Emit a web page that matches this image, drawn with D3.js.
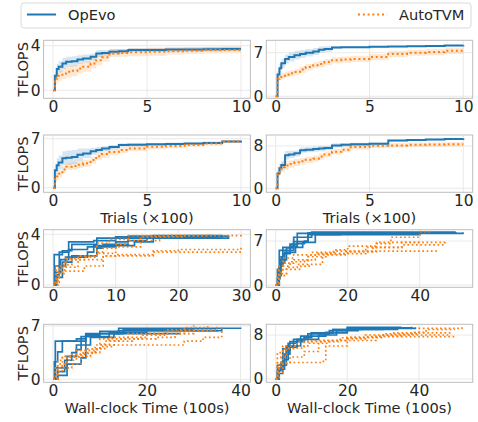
<!DOCTYPE html>
<html><head><meta charset="utf-8">
<script src="https://cdn.jsdelivr.net/npm/d3@7"></script>
<style>
body{margin:0;background:#fff}
text{font-family:"DejaVu Sans",sans-serif;fill:#262626}
</style>
</head><body>
<svg id="c" width="478" height="422"></svg>
<script>
// ---------------- DATA ----------------
const seriesNames = ["OpEvo", "AutoTVM"];
const yLabel = "TFLOPS";
const xLabelTrials = "Trials (\u00d7100)";
const xLabelTime = "Wall-clock Time (100s)";

// Trials grid (x100) for mean curves
const trialsX = [0, 0.1, 0.2, 0.3, 0.5, 0.7, 1.0, 1.3, 1.6, 2.0, 2.3, 2.6, 3.0, 3.5, 4.0, 5.0, 6.0, 7.0, 8.0, 9.0, 10.0];

// Panel A (row 1, left)
const aOpEvoMean   = [0, 1.3, 1.9, 2.1, 2.4, 2.55, 2.6, 2.75, 2.85, 3.0, 3.3, 3.35, 3.45, 3.5, 3.6, 3.62, 3.65, 3.66, 3.68, 3.7, 3.7];
const aOpEvoStd    = [0, 0.3, 0.45, 0.5, 0.5, 0.45, 0.45, 0.4, 0.35, 0.3, 0.3, 0.25, 0.25, 0.2, 0.2, 0.2, 0.2, 0.2, 0.2, 0.2, 0.2];
const aAutoTVMMean = [0, 0.8, 1.1, 1.3, 1.5, 1.65, 1.75, 1.95, 2.1, 2.4, 2.7, 2.95, 3.3, 3.35, 3.4, 3.45, 3.5, 3.55, 3.6, 3.62, 3.65];
const aAutoTVMStd  = [0, 0.3, 0.4, 0.45, 0.5, 0.5, 0.5, 0.45, 0.45, 0.45, 0.45, 0.4, 0.35, 0.35, 0.35, 0.35, 0.3, 0.3, 0.3, 0.3, 0.3];

// Panel B (row 1, right)
const bOpEvoMean   = [0, 3.5, 4.5, 5.3, 6.0, 6.3, 6.6, 6.8, 7.0, 7.2, 7.5, 7.6, 7.85, 7.9, 7.9, 7.95, 8.0, 8.05, 8.1, 8.15, 8.2];
const bOpEvoStd    = [0, 0.6, 0.7, 0.7, 0.7, 0.7, 0.7, 0.65, 0.6, 0.55, 0.5, 0.45, 0.2, 0.15, 0.15, 0.1, 0.1, 0.1, 0.1, 0.1, 0.1];
const bAutoTVMMean = [0, 2.8, 3.1, 3.3, 3.5, 3.7, 3.9, 4.3, 4.7, 5.0, 5.2, 5.5, 5.8, 5.9, 6.0, 6.3, 6.8, 7.0, 7.1, 7.3, 7.4];
const bAutoTVMStd  = [0, 0.5, 0.5, 0.5, 0.5, 0.5, 0.5, 0.5, 0.5, 0.5, 0.5, 0.5, 0.5, 0.5, 0.5, 0.5, 0.5, 0.5, 0.5, 0.5, 0.5];

// Panel C (row 2, left)
const cOpEvoMean   = [0, 2.5, 3.2, 3.6, 4.2, 4.3, 4.4, 4.7, 4.9, 5.2, 5.4, 5.6, 5.8, 6.1, 6.15, 6.2, 6.25, 6.3, 6.4, 6.6, 6.7];
const cOpEvoStd    = [0, 0.8, 1.0, 1.0, 1.0, 1.0, 1.0, 0.9, 0.7, 0.5, 0.4, 0.35, 0.3, 0.25, 0.25, 0.2, 0.2, 0.15, 0.15, 0.1, 0.1];
const cAutoTVMMean = [0, 1.2, 1.6, 2.0, 2.6, 3.0, 3.1, 3.3, 3.5, 3.95, 4.5, 4.8, 5.1, 5.4, 5.6, 5.85, 5.95, 6.1, 6.3, 6.6, 6.7];
const cAutoTVMStd  = [0, 0.4, 0.5, 0.5, 0.5, 0.5, 0.5, 0.5, 0.5, 0.5, 0.5, 0.5, 0.45, 0.4, 0.4, 0.35, 0.3, 0.3, 0.3, 0.2, 0.2];

// Panel D (row 2, right)
const dOpEvoMean   = [0, 2.8, 3.8, 4.4, 6.25, 6.4, 6.6, 7.2, 7.3, 7.4, 7.5, 7.6, 8.1, 8.2, 8.3, 8.4, 9.0, 9.1, 9.2, 9.3, 9.4];
const dOpEvoStd    = [0, 0.6, 0.8, 0.8, 0.8, 0.7, 0.6, 0.5, 0.5, 0.5, 0.5, 0.45, 0.4, 0.35, 0.3, 0.25, 0.2, 0.2, 0.2, 0.2, 0.2];
const dAutoTVMMean = [0, 3.1, 3.6, 4.0, 4.3, 4.6, 4.9, 5.1, 5.4, 5.6, 6.0, 6.4, 6.9, 7.3, 7.8, 8.05, 8.1, 8.2, 8.25, 8.3, 8.3];
const dAutoTVMStd  = [0, 1.0, 1.0, 0.9, 0.8, 0.7, 0.7, 0.6, 0.6, 0.6, 0.6, 0.55, 0.5, 0.5, 0.5, 0.45, 0.4, 0.4, 0.4, 0.4, 0.4];

// Individual runs vs wall-clock time (100s): [time, TFLOPS]
const eOpEvoRuns = [
  [[0,0],[0.2,2.4],[1.5,2.7],[3,3.2],[7,3.7],[12,3.85],[28,3.9]],
  [[0,0],[0.3,1.5],[1,2.6],[2.5,3.4],[6.5,3.5],[10,3.8],[16,3.9],[27,3.9]],
  [[0,0],[0.5,0.8],[1,1.5],[2,2.2],[5.5,2.6],[6.5,3.1],[13,3.4],[16,3.7],[26,3.8]],
  [[0,0],[0.6,0.6],[1.5,1.8],[3,2.3],[7,2.9],[8,3.2],[12,3.5],[15,3.8],[27,3.85]],
  [[0,0],[0.3,1.0],[1.2,2.0],[2.5,2.8],[5.5,3.0],[10,3.4],[12,3.7],[28,3.9]]
];
const eAutoTVMRuns = [
  [[0,0],[0.5,1.5],[2,2.0],[8,2.3],[16,2.6],[30,2.6]],
  [[0,0],[0.8,0.9],[2,1.1],[5,1.5],[8,2.3],[10,2.4],[16,2.7],[20,2.8],[30,3.0]],
  [[0,0],[0.5,1.0],[1.5,1.6],[3,2.0],[5,2.2],[7,3.3],[9,3.6],[12,3.9],[25,4.0]],
  [[0,0],[0.4,0.4],[1,1.2],[2,2.1],[4,2.3],[7,2.5],[10,3.0],[14,3.8],[21,3.95]],
  [[0,0],[0.3,0.2],[1,1.4],[4,2.3],[7,2.6],[8,2.9],[10,3.2],[12,3.5],[17,3.9],[30,3.95]]
];
const fOpEvoRuns = [
  [[0,0],[0.5,2.5],[1,5.5],[3,5.9],[5,6.9],[9,8.0],[18,8.3],[46,8.4]],
  [[0,0],[0.8,2],[1.5,4.5],[2,6.0],[4,6.5],[6,8.2],[52,8.4]],
  [[0,0],[0.6,1.5],[1.5,3.5],[2.5,5.2],[5.5,6.0],[7.5,6.8],[11,8.0],[40,8.3]],
  [[0,0],[1,3],[2,5.0],[4,6.2],[6,6.6],[8,7.0],[9,8.3],[45,8.4]],
  [[0,0],[0.5,1],[1.2,4],[3,5.5],[5,7.6],[10,8.4],[50,8.45]]
];
const fAutoTVMRuns = [
  [[0,0],[1,2],[2,3.5],[5,4.0],[9,4.8],[12,5.0],[25,5.3],[28,6.6],[32,7.6],[40,8.5],[43,8.5]],
  [[0,0],[1,1.8],[3,2.5],[7,3.0],[10,3.3],[13,4.8],[20,5.3],[27,5.4],[45,5.45]],
  [[0,0],[0.8,2.5],[2,4.3],[5,4.8],[10,5.2],[17,5.4],[27,6.0],[35,6.4],[47,6.6]],
  [[0,0],[1,3.0],[4,3.7],[8,4.0],[11,5.0],[16,5.6],[20,6.2],[28,6.8],[47,7.0]],
  [[0,0],[0.5,1.5],[3,2.8],[6,3.3],[9,4.5],[14,5.0],[19,5.3],[25,6.0],[35,6.8],[40,7.0]]
];
const gOpEvoRuns = [
  [[0,0],[0.5,5.0],[2,5.0],[7,5.9],[10,6.3],[14,6.7],[40,6.8]],
  [[0,0],[0.3,2.3],[1,3.6],[2,5.0],[5,5.3],[7,6.0],[14,6.4],[35,6.5]],
  [[0,0],[1,1.0],[2.5,2.5],[3,3.0],[5,3.9],[6,5.6],[12,6.2],[20,6.4],[36,6.6]],
  [[0,0],[0.5,1.5],[3,2.0],[6,2.8],[7,5.8],[10,6.0],[15,6.5],[30,6.7]],
  [[0,0],[1,0.5],[3,2.5],[4,3.5],[5,4.5],[8,5.5],[13,6.0],[27,6.1]]
];
const gAutoTVMRuns = [
  [[0,0],[1,1.0],[2,1.8],[3,2.9],[6,3.4],[9,3.9],[10,4.5],[13,5.0],[17,5.3],[22,5.5],[26,6.0],[30,6.5],[35,7.0]],
  [[0,0],[1,2.0],[3,2.5],[5,3.0],[8,3.5],[10,4.3],[13,4.5],[25,4.5],[28,5.0],[32,5.5],[36,6.8]],
  [[0,0],[0.5,1.5],[2,3.0],[5,3.8],[9,4.5],[12,5.5],[20,6.0],[28,6.8],[33,7.0]],
  [[0,0],[1,2.5],[2,3.0],[4,3.3],[7,4.0],[10,5.3],[16,6.0],[24,6.5],[30,7.1]],
  [[0,0],[1,1.5],[4,2.0],[6,3.5],[9,4.0],[11,5.0],[14,5.3],[19,5.8],[24,6.3],[27,6.4],[34,6.5]]
];
const hOpEvoRuns = [
  [[0,0],[0.5,1.5],[1.5,3],[2,5.5],[3,6.0],[5,7.2],[9,8.2],[15,8.8],[20,9.2],[39,9.4]],
  [[0,0],[0.5,2.5],[2,4.5],[3,5.8],[6,7.0],[8,7.6],[10,8.4],[16,9.0],[24,9.2],[33,9.3]],
  [[0,0],[1,2.0],[2,3.5],[3.5,6.5],[6,7.2],[12,8.0],[17,8.8],[23,9.0],[34,9.1]],
  [[0,0],[0.8,1.0],[2,2.5],[3,5.2],[4,6.8],[8,7.5],[10,8.4],[20,9.4],[35,9.5]],
  [[0,0],[1,1.8],[2.5,4.5],[4,6.0],[7,7.8],[14,8.5],[16,9.0],[30,9.3],[38,9.5]]
];
const hAutoTVMRuns = [
  [[0,0],[0.5,3],[2,5.5],[5,6.0],[9,6.5],[15,7.0],[20,7.5],[30,8.2],[40,9.2],[52,9.5]],
  [[0,0],[0.5,1.2],[2,3.0],[13,3.2],[14,6.0],[20,7.0],[28,7.8],[35,8.0],[49,8.0]],
  [[0,0],[0.5,2],[1.5,4],[3,5.6],[8,6.8],[13,7.0],[20,7.3],[25,7.7],[50,7.8]],
  [[0,0],[1,2.8],[4,4.0],[8,5.0],[12,6.8],[18,7.5],[25,8.0],[33,8.4],[49,8.5]],
  [[0,0],[0.5,4.8],[2,6.0],[6,6.8],[10,7.0],[20,7.6],[30,8.0],[38,8.5],[42,9.0],[50,9.0]]
];

// Tick values
const xTicksTrials = [0, 5, 10];
const xTicksE = [0, 10, 20, 30];
const xTicksWide = [0, 20, 40];
const yTicksA = [0, 4], yTicksB = [0, 7], yTicksC = [0, 7], yTicksD = [0, 8];
const yTicksE = [0, 4], yTicksF = [0, 7], yTicksG = [0, 7], yTicksH = [0, 8];

// ---------------- LAYOUT ----------------
const BLUE = "#1f77b4", ORANGE = "#ff7f0e";
const TICK_FS = 15.5, LABEL_FS = 14.6;
const colL = {x: 43.6, w: 206.8}, colR = {x: 266.3, w: 206.4};
const rows = [{y: 40.3, h: 58}, {y: 135, h: 57.3}, {y: 229.7, h: 57.6}, {y: 324.3, h: 58}];

const zipMean = (m, s) => trialsX.map((x, i) => ({x, m: m[i], s: s[i]}));

const panels = [
  {col: colL, row: rows[0], xd: [-0.5, 10.5], yd: [-0.72, 4.48], xt: xTicksTrials, yt: yTicksA, mean: [zipMean(aOpEvoMean, aOpEvoStd), zipMean(aAutoTVMMean, aAutoTVMStd)], ylab: true},
  {col: colR, row: rows[0], xd: [-0.5, 10.5], yd: [-0.33, 9.0], xt: xTicksTrials, yt: yTicksB, mean: [zipMean(bOpEvoMean, bOpEvoStd), zipMean(bAutoTVMMean, bAutoTVMStd)]},
  {col: colL, row: rows[1], xd: [-0.5, 10.5], yd: [-0.65, 7.53], xt: xTicksTrials, yt: yTicksC, mean: [zipMean(cOpEvoMean, cOpEvoStd), zipMean(cAutoTVMMean, cAutoTVMStd)], ylab: true, xlab: xLabelTrials},
  {col: colR, row: rows[1], xd: [-0.5, 10.5], yd: [-0.75, 10.06], xt: xTicksTrials, yt: yTicksD, mean: [zipMean(dOpEvoMean, dOpEvoStd), zipMean(dAutoTVMMean, dAutoTVMStd)], xlab: xLabelTrials},
  {col: colL, row: rows[2], xd: [-1.5, 31.5], yd: [-0.18, 4.36], xt: xTicksE, yt: yTicksE, runs: [eOpEvoRuns, eAutoTVMRuns], ylab: true},
  {col: colR, row: rows[2], xd: [-2.6, 54.7], yd: [-0.36, 8.8], xt: xTicksWide, yt: yTicksF, runs: [fOpEvoRuns, fAutoTVMRuns]},
  {col: colL, row: rows[3], xd: [-2.0, 42.1], yd: [-0.4, 7.22], xt: xTicksWide, yt: yTicksG, runs: [gOpEvoRuns, gAutoTVMRuns], ylab: true, xlab: xLabelTime},
  {col: colR, row: rows[3], xd: [-2.6, 55.0], yd: [-0.6, 9.95], xt: xTicksWide, yt: yTicksH, runs: [hOpEvoRuns, hAutoTVMRuns], xlab: xLabelTime}
];

const svg = d3.select("#c");
const defs = svg.append("defs");

panels.forEach((p, i) => {
  const x0 = p.col.x, w = p.col.w, y0 = p.row.y, h = p.row.h;
  const xs = d3.scaleLinear().domain(p.xd).range([x0, x0 + w]);
  const ys = d3.scaleLinear().domain(p.yd).range([y0 + h, y0]);
  const g = svg.append("g");
  defs.append("clipPath").attr("id", "clip" + i).append("rect")
    .attr("x", x0).attr("y", y0).attr("width", w).attr("height", h);

  // grid
  g.append("g").selectAll("line").data(p.xt).join("line")
    .attr("x1", d => xs(d)).attr("x2", d => xs(d)).attr("y1", y0).attr("y2", y0 + h)
    .attr("stroke", "#e6e6e6").attr("stroke-width", 0.9);
  g.append("g").selectAll("line").data(p.yt).join("line")
    .attr("y1", d => ys(d)).attr("y2", d => ys(d)).attr("x1", x0).attr("x2", x0 + w)
    .attr("stroke", "#e6e6e6").attr("stroke-width", 0.9);

  const plot = g.append("g").attr("clip-path", `url(#clip${i})`);
  const colors = [BLUE, ORANGE];

  if (p.mean) {
    p.mean.forEach((ser, k) => {
      const area = d3.area().curve(d3.curveStepAfter)
        .x(d => xs(d.x)).y0(d => ys(d.m - d.s)).y1(d => ys(d.m + d.s));
      plot.append("path").attr("d", area(ser)).attr("fill", colors[k]).attr("fill-opacity", 0.18);
    });
    p.mean.forEach((ser, k) => {
      const line = d3.line().curve(d3.curveStepAfter).x(d => xs(d.x)).y(d => ys(d.m));
      const path = plot.append("path").attr("d", line(ser)).attr("fill", "none")
        .attr("stroke", colors[k]).attr("stroke-width", 2);
      if (k === 1) path.attr("stroke-dasharray", "2,2.8");
    });
  }
  if (p.runs) {
    const line = d3.line().curve(d3.curveStepAfter).x(d => xs(d[0])).y(d => ys(d[1]));
    p.runs.forEach((runs, k) => {
      runs.forEach(r => {
        const path = plot.append("path").attr("d", line(r)).attr("fill", "none")
          .attr("stroke", colors[k]).attr("stroke-width", 1.7);
        if (k === 1) path.attr("stroke-dasharray", "1.7,2.6");
      });
    });
  }

  // frame
  g.append("rect").attr("x", x0).attr("y", y0).attr("width", w).attr("height", h)
    .attr("fill", "none").attr("stroke", "#bdbdbd").attr("stroke-width", 1);

  // axes (tick labels only)
  const xa = d3.axisBottom(xs).tickValues(p.xt).tickSize(0).tickPadding(2.5).tickFormat(d3.format("d"));
  const ya = d3.axisLeft(ys).tickValues(p.yt).tickSize(0).tickPadding(3).tickFormat(d3.format("d"));
  const gx = g.append("g").attr("transform", `translate(0,${y0 + h})`).call(xa);
  const gy = g.append("g").attr("transform", `translate(${x0},0)`).call(ya);
  [gx, gy].forEach(a => {
    a.select(".domain").remove();
    a.selectAll("text").attr("font-size", TICK_FS).attr("font-family", "DejaVu Sans").attr("fill", "#262626");
  });
  gx.selectAll("text").attr("dy", "0.72em");

  if (p.ylab) {
    g.append("text").attr("transform", `translate(28,${y0 + h / 2}) rotate(-90)`)
      .attr("text-anchor", "middle").attr("font-size", LABEL_FS).text(yLabel);
  }
  if (p.xlab) {
    g.append("text").attr("x", x0 + w / 2).attr("y", y0 + h + 31)
      .attr("text-anchor", "middle").attr("font-size", LABEL_FS).text(p.xlab);
  }
});

// legend
const lg = svg.append("g");
lg.append("rect").attr("x", 21).attr("y", 3).attr("width", 450).attr("height", 25).attr("rx", 3)
  .attr("fill", "#fff").attr("stroke", "#d6d6d6").attr("stroke-width", 0.9);
const legendItems = [{x: 27, tx: 68, c: BLUE, dash: null}, {x: 358, tx: 399, c: ORANGE, dash: "2,2.8"}];
legendItems.forEach((it, k) => {
  const l = lg.append("line").attr("x1", it.x).attr("x2", it.x + 29).attr("y1", 14.5).attr("y2", 14.5)
    .attr("stroke", it.c).attr("stroke-width", 2);
  if (it.dash) l.attr("stroke-dasharray", it.dash);
  lg.append("text").attr("x", it.tx).attr("y", 20).attr("font-size", LABEL_FS).text(seriesNames[k]);
});
</script>
</body></html>
